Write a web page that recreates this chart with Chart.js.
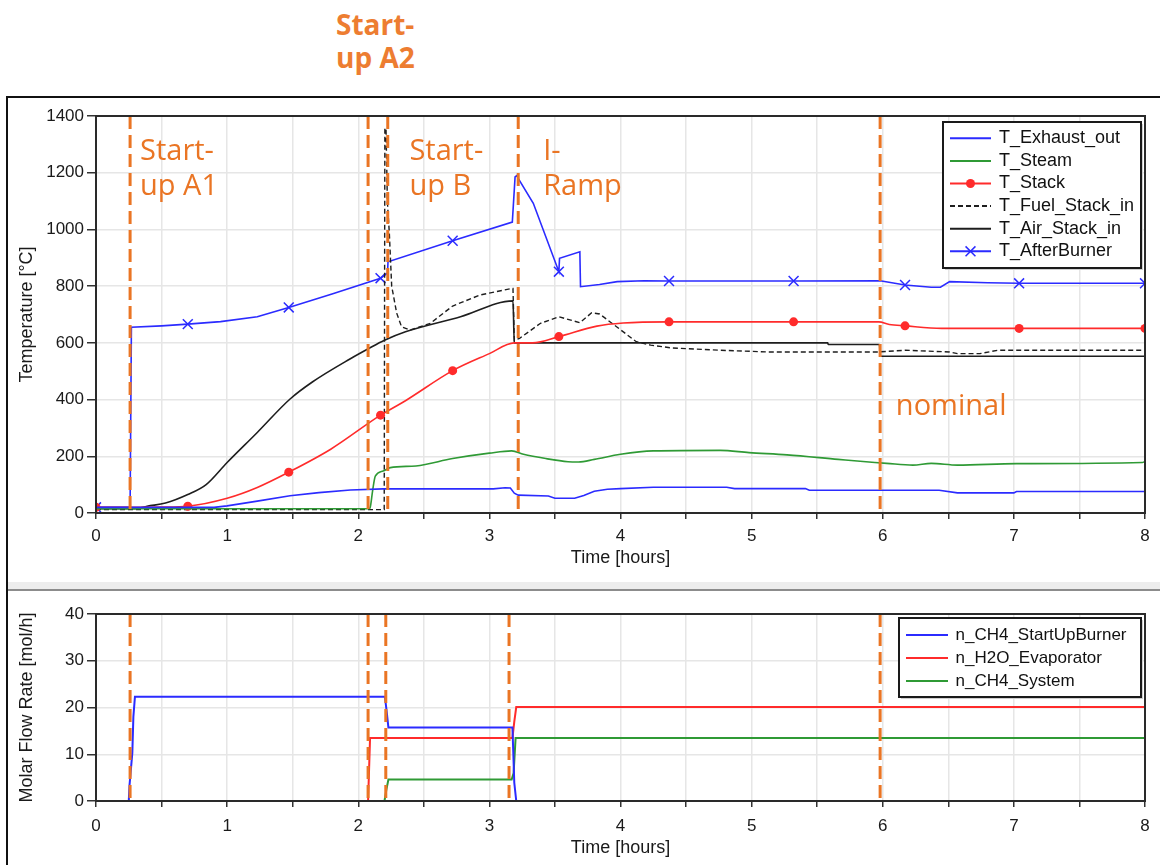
<!DOCTYPE html>
<html>
<head>
<meta charset="utf-8">
<title>Start-up: temperatures and molar flow rates</title>
<script src="https://cdn.jsdelivr.net/npm/chart.js@4.4.0/dist/chart.umd.min.js"></script>
<style>
  html, body { margin:0; padding:0; background:#fff; }
  body { width:1160px; height:865px; position:relative; overflow:hidden; font-family:"Liberation Sans", Arial, sans-serif; }
  #frame { position:absolute; left:6px; top:96px; width:1160px; height:800px; border-top:2px solid #111; border-left:2px solid #111; }
  #sep { position:absolute; left:8px; top:582px; width:1152px; height:7px; background:#ededed; border-bottom:2px solid #8c8c8c; }
  .box { position:absolute; left:0; width:1160px; }
  #topBox { top:98px; height:484px; }
  #botBox { top:591px; height:274px; }
  #a2 { position:absolute; left:336px; top:8px; font:700 28px/33px "Open Sans", sans-serif; color:#ED7D31; }
</style>
</head>
<body>
<div id="frame"></div>
<div id="sep"></div>
<div id="a2">Start-<br>up A2</div>
<div class="box" id="topBox"><canvas id="cTop"></canvas></div>
<div class="box" id="botBox"><canvas id="cBot"></canvas></div>

<script>
// phase boundaries [hours]
const phaseTop = [0.26, 2.075, 2.225, 3.22, 5.98];
const phaseBot = [0.26, 2.075, 2.21, 3.15, 5.98];
// times that carry a marker on T_Stack / T_AfterBurner
const markT = [0, 0.7, 1.47, 2.17, 2.72, 3.53, 4.37, 5.32, 6.17, 7.04, 8];

// temperatures [°C]
const exT = [0, 0.9, 1.0, 1.23, 1.48, 1.7, 1.94, 2.19, 3.03, 3.12, 3.16, 3.19, 3.22, 3.45, 3.5, 3.65, 3.72, 3.8, 3.9, 4.0, 4.25, 4.81, 4.87, 5.41, 5.44, 6.43, 6.57, 7.0, 7.02, 8];
const exV = [20, 20, 25, 42, 61, 72, 81, 85, 85, 89, 88, 70, 63, 60, 52, 52, 62, 77, 84, 86, 91, 91, 86, 86, 80, 80, 71, 71, 76, 76];

const stT = [0, 2.08, 2.09, 2.11, 2.13, 2.19, 2.245, 2.44, 2.72, 3.0, 3.17, 3.26, 3.43, 3.6, 3.68, 3.8, 4.0, 4.25, 4.76, 4.98, 5.27, 5.66, 5.94, 6.03, 6.23, 6.37, 6.57, 7.02, 7.98, 8];
const stV = [15, 15, 18, 80, 130, 148, 160, 166, 192, 211, 219, 207, 192, 181, 180, 189, 207, 219, 221, 213, 205, 189, 178, 175, 169, 175, 169, 174, 178, 182];

const stackT = [0, 0.3, 0.5, 0.7, 1.0, 1.23, 1.47, 1.79, 2.17, 2.36, 2.72, 3.0, 3.19, 3.33, 3.53, 3.82, 4.02, 4.37, 5.32, 5.97, 6.05, 6.17, 6.45, 7.04, 8];
const stackV = [20, 20, 21, 24, 52, 90, 144, 225, 345, 396, 502, 562, 600, 600, 622, 659, 670, 674, 674, 674, 665, 660, 651, 651, 651];

const fuelT = [0, 2.198, 2.203, 2.212, 2.222, 2.237, 2.255, 2.293, 2.33, 2.395, 2.55, 2.72, 2.93, 3.17, 3.18, 3.19, 3.23, 3.39, 3.53, 3.69, 3.78, 3.84, 3.97, 4.12, 4.23, 4.39, 4.76, 5.12, 5.97, 6.17, 6.51, 6.57, 6.74, 6.88, 8];
const fuelV = [12, 12, 1358, 1350, 1100, 987, 800, 705, 657, 645, 669, 730, 769, 792, 792, 608, 616, 669, 692, 671, 706, 702, 657, 604, 592, 582, 574, 568, 568, 574, 568, 562, 562, 574, 574];

const airT = [0, 0.3, 0.39, 0.53, 0.7, 0.84, 1.0, 1.23, 1.48, 1.65, 1.94, 2.08, 2.2, 2.36, 2.78, 3.18, 3.19, 5.58, 5.585, 5.975, 5.98, 8];
const airV = [15, 15, 24, 35, 65, 100, 178, 284, 402, 462, 544, 580, 609, 639, 692, 748, 600, 600, 594, 594, 553, 553];

const abT = [0, 0.26, 0.27, 0.5, 0.7, 0.95, 1.23, 1.47, 1.8, 2.17, 2.223, 2.227, 2.72, 3.175, 3.196, 3.21, 3.22, 3.335, 3.53, 3.535, 3.69, 3.695, 3.84, 3.975, 4.18, 4.37, 5.32, 5.98, 6.17, 6.37, 6.44, 6.51, 6.8, 7.04, 8];
const abV = [20, 20, 655, 660, 666, 675, 692, 725, 772, 828, 846, 886, 960, 1026, 1185, 1190, 1180, 1092, 851, 898, 921, 798, 806, 816, 819, 818, 818, 819, 804, 796, 796, 816, 812, 810, 810];

// molar flow rates [mol/h]
const burnT = [0, 0.25, 0.255, 0.277, 0.285, 0.297, 2.203, 2.215, 2.23, 3.176, 3.19, 3.205, 8];
const burnV = [0, 0, 3.2, 10.3, 18, 22.3, 22.3, 19.6, 15.7, 15.7, 3.9, 0, 0];
const evapT = [0, 2.075, 2.09, 3.176, 3.19, 3.205, 8];
const evapV = [0, 0, 13.5, 13.5, 17, 20.1, 20.1];
const sysT  = [0, 2.2, 2.215, 2.23, 3.17, 3.185, 3.2, 8];
const sysV  = [0, 0, 2.5, 4.6, 4.6, 6, 13.5, 13.5];

const xTicks = { min:0, max:8, step:0.5 };
const yTopTicks = { min:0, max:1400, step:200 };
const yBotTicks = { min:0, max:40, step:10 };

const BLUE = '#2b2bff', GREEN = '#2f9a35', RED = '#ff2b2b', BLACK = '#1e1e1e', ORANGE = '#EA7524';
const FONT = '"Liberation Sans", Arial, sans-serif';

Chart.defaults.font.family = FONT;
Chart.defaults.color = '#1a1a1a';

const pts = (ts, vs) => ts.map((t, i) => ({ x: t, y: vs[i] }));
const atMark = r => ctx => (ctx.raw && markT.includes(ctx.raw.x)) ? r : 0;

function phaseSets(times, top) {
  return times.map(t => ({
    isPhase: true, order: -1,
    data: [{ x: t, y: top }, { x: t, y: 0 }],
    borderColor: ORANGE, borderWidth: 3, borderDash: [13, 6], pointRadius: 0
  }));
}

function line(label, data, color, extra) {
  return Object.assign({ label, data, borderColor: color, backgroundColor: color,
    borderWidth: 1.6, pointRadius: 0, tension: 0 }, extra || {});
}

function drawMark(ctx, style, x, y, r, color) {
  ctx.save();
  ctx.setLineDash([]);
  ctx.strokeStyle = color; ctx.fillStyle = color; ctx.lineWidth = 1.5;
  ctx.beginPath();
  if (style === 'circle') { ctx.arc(x, y, r, 0, Math.PI * 2); ctx.fill(); }
  else {
    const d = r * 0.707;
    ctx.moveTo(x - d, y - d); ctx.lineTo(x + d, y + d);
    ctx.moveTo(x + d, y - d); ctx.lineTo(x - d, y + d);
    ctx.stroke();
  }
  ctx.restore();
}

// plot frame + legend box + in-plot notes
const framePlugin = {
  id: 'frame',
  afterDatasetsDraw(chart) {
    const { ctx, chartArea: a } = chart;
    ctx.save();
    ctx.strokeStyle = '#2a2a2a'; ctx.lineWidth = 2;
    ctx.strokeRect(a.left, a.top, a.right - a.left, a.bottom - a.top);
    ctx.restore();
  },
  afterDraw(chart, args, opts) {
    const { ctx } = chart;
    const notes = opts.notes || [];
    ctx.save();
    ctx.fillStyle = ORANGE;
    ctx.font = '29px "Open Sans", sans-serif';
    ctx.textBaseline = 'alphabetic';
    notes.forEach(n => {
      ctx.fillText(n.text, chart.scales.x.getPixelForValue(n.t), chart.scales.y.getPixelForValue(n.v));
    });
    ctx.restore();

    const b = opts.legend;
    if (!b) return;
    const items = chart.data.datasets.filter(d => !d.isPhase);
    ctx.save();
    ctx.fillStyle = '#cfcfcf';
    ctx.fillRect(b.x + 2, b.y + 2, b.w, b.h);
    ctx.fillStyle = '#fff';
    ctx.fillRect(b.x, b.y, b.w, b.h);
    ctx.strokeStyle = '#1a1a1a'; ctx.lineWidth = 2;
    ctx.strokeRect(b.x, b.y, b.w, b.h);
    ctx.font = b.font; ctx.textBaseline = 'middle'; ctx.textAlign = 'left';
    items.forEach((d, i) => {
      const y = b.y + b.first + i * b.row;
      ctx.strokeStyle = d.borderColor; ctx.lineWidth = 2;
      ctx.setLineDash(d.borderDash || []);
      ctx.beginPath(); ctx.moveTo(b.x + b.sx, y); ctx.lineTo(b.x + b.sx + b.slen, y); ctx.stroke();
      ctx.setLineDash([]);
      if (d.legendMark) drawMark(ctx, d.pointStyle, b.x + b.sx + b.slen / 2, y, d.legendMark, d.borderColor);
      ctx.fillStyle = '#111';
      ctx.fillText(d.label, b.x + b.tx, y);
    });
    ctx.restore();
  }
};

function xScale(tickPad, titlePadBottom, height) {
  return {
    type: 'linear', min: xTicks.min, max: xTicks.max,
    afterFit: s => { s.height = height; },
    ticks: { stepSize: xTicks.step, autoSkip: false, maxRotation: 0, padding: tickPad,
      font: { size: 17 }, color: '#1a1a1a',
      callback: v => Number.isInteger(v) ? String(v) : '' },
    grid: { color: '#e6e6e6', lineWidth: 1.5, tickLength: 6, tickColor: '#333', tickWidth: 1.5 },
    border: { display: true, color: '#2a2a2a', width: 2 },
    title: { display: true, text: 'Time [hours]', font: { size: 18 }, color: '#1a1a1a',
      padding: { top: 0, bottom: titlePadBottom } }
  };
}

function yScale(t, title) {
  return {
    min: t.min, max: t.max,
    afterFit: s => { s.width = 96; },
    ticks: { stepSize: t.step, padding: 3, font: { size: 17 }, color: '#1a1a1a',
      callback: v => String(v) },
    grid: { color: '#e6e6e6', lineWidth: 1.5, tickLength: 9, tickColor: '#333', tickWidth: 1.5 },
    border: { display: true, color: '#2a2a2a', width: 2 },
    title: { display: true, text: title, font: { size: 18 }, color: '#1a1a1a', padding: { top: 16, bottom: 0 } }
  };
}

const common = { animation: false, responsive: true, maintainAspectRatio: false, events: [] };
const smooth = { cubicInterpolationMode: 'monotone' };

new Chart(document.getElementById('cTop'), {
  type: 'line',
  data: { datasets: [
    line('T_Exhaust_out', pts(exT, exV), BLUE),
    line('T_Steam', pts(stT, stV), GREEN, smooth),
    line('T_Stack', pts(stackT, stackV), RED, Object.assign({ pointStyle: 'circle', pointRadius: atMark(4.5),
      pointBorderWidth: 0, legendMark: 4.5 }, smooth)),
    line('T_Fuel_Stack_in', pts(fuelT, fuelV), BLACK, { borderDash: [5, 3], borderWidth: 1.4 }),
    line('T_Air_Stack_in', pts(airT, airV), BLACK, smooth),
    line('T_AfterBurner', pts(abT, abV), BLUE, { pointStyle: 'crossRot', pointRadius: atMark(7),
      pointBorderWidth: 1.5, legendMark: 7 }),
    ...phaseSets(phaseTop, yTopTicks.max)
  ] },
  options: Object.assign({}, common, {
    layout: { padding: { left: 0, right: 15, top: 18, bottom: 0 } },
    scales: { x: xScale(7, 13, 69), y: yScale(yTopTicks, 'Temperature [°C]') },
    plugins: {
      legend: { display: false }, tooltip: { enabled: false },
      frame: {
        notes: [
          { t: 0.336, v: 1245, text: 'Start-' }, { t: 0.336, v: 1121, text: 'up A1' },
          { t: 2.39, v: 1245, text: 'Start-' }, { t: 2.39, v: 1121, text: 'up B' },
          { t: 3.41, v: 1245, text: 'I-' }, { t: 3.41, v: 1121, text: 'Ramp' },
          { t: 6.1, v: 346, text: 'nominal' }
        ],
        legend: { x: 943, y: 24, w: 198, h: 146, first: 16.3, row: 22.6, sx: 7, slen: 41, tx: 56,
          font: '18px ' + FONT }
      }
    }
  }),
  plugins: [framePlugin]
});

new Chart(document.getElementById('cBot'), {
  type: 'line',
  data: { datasets: [
    line('n_CH4_StartUpBurner', pts(burnT, burnV), BLUE, { borderWidth: 2 }),
    line('n_H2O_Evaporator', pts(evapT, evapV), RED, { borderWidth: 2 }),
    line('n_CH4_System', pts(sysT, sysV), GREEN, { borderWidth: 2 }),
    ...phaseSets(phaseBot, yBotTicks.max)
  ] },
  options: Object.assign({}, common, {
    layout: { padding: { left: 0, right: 15, top: 23, bottom: 0 } },
    scales: { x: xScale(9, 6, 64), y: yScale(yBotTicks, 'Molar Flow Rate [mol/h]') },
    plugins: {
      legend: { display: false }, tooltip: { enabled: false },
      frame: {
        legend: { x: 899, y: 27, w: 242, h: 79, first: 17, row: 23, sx: 7, slen: 42, tx: 56.5,
          font: '17px ' + FONT }
      }
    }
  }),
  plugins: [framePlugin]
});
</script>
</body>
</html>
